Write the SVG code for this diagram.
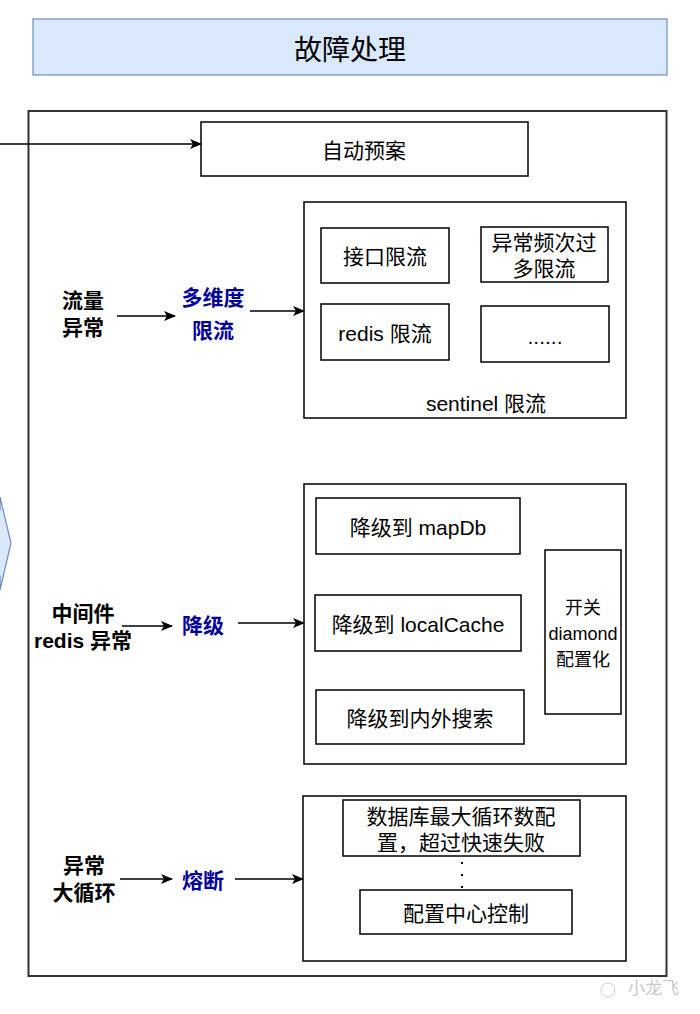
<svg xmlns="http://www.w3.org/2000/svg" width="700" height="1014" viewBox="0 0 700 1014">
<defs>
<style>
.box{fill:#fff;stroke:#000;stroke-width:1.5}
.t{font-family:"Liberation Sans","Noto Sans CJK SC",sans-serif;font-size:21px;fill:#000;text-anchor:middle;dominant-baseline:central}
.lb{font-family:"Liberation Sans","Noto Sans CJK SC",sans-serif;font-size:21px;font-weight:bold;fill:#000;text-anchor:middle;dominant-baseline:central}
.bl{fill:#000099}
.c{stroke:#000;stroke-width:1.5;fill:none;marker-end:url(#ah)}
</style>
<marker id="ah" viewBox="0 0 12 10" refX="11" refY="5" markerWidth="12" markerHeight="10" markerUnits="userSpaceOnUse" orient="auto">
<path d="M0,0 L12,5 L0,10 L3,5 Z" fill="#000"/>
</marker>
</defs>
<rect width="700" height="1014" fill="#fff"/>

<g id="left-arrow-shape">
<polygon points="-20,510 0,510 0,497 11,543 0,590 0,576 -20,576" fill="#dae8fc" stroke="#6c8ebf" stroke-width="1.2"/>
</g>

<g id="title">
<rect x="33" y="19" width="634" height="56" fill="#dae8fc" stroke="#6c8ebf" stroke-width="1.2"/>
<text class="t" x="350" y="50" style="font-size:28px">故障处理</text>
</g>

<g id="outer">
<rect x="28.5" y="111" width="638" height="865" fill="none" stroke="#333" stroke-width="2"/>
</g>

<g id="auto-plan">
<rect class="box" x="201" y="122" width="327" height="54"/>
<text class="t" x="364" y="150">自动预案</text>
</g>

<g id="sentinel-group">
<rect class="box" x="304" y="202" width="322" height="216"/>
<text class="t" x="486" y="403">sentinel 限流</text>
</g>
<g id="n-api">
<rect class="box" x="321" y="228" width="128" height="55"/>
<text class="t" x="385" y="256">接口限流</text>
</g>
<g id="n-freq">
<rect class="box" x="481" y="227" width="127" height="55"/>
<text class="t" x="544" y="242">异常频次过</text>
<text class="t" x="544" y="268">多限流</text>
</g>
<g id="n-redis">
<rect class="box" x="321" y="304" width="128" height="56"/>
<text class="t" x="385" y="333">redis 限流</text>
</g>
<g id="n-more">
<rect class="box" x="481" y="306" width="128" height="56"/>
<text class="t" x="545" y="336">......</text>
</g>

<g id="lbl-traffic">
<text class="lb" x="83" y="300">流量</text>
<text class="lb" x="83" y="327">异常</text>
</g>
<g id="lbl-multi">
<text class="lb bl" x="213" y="297">多维度</text>
<text class="lb bl" x="213" y="330">限流</text>
</g>

<g id="degrade-group">
<rect class="box" x="304" y="484" width="322" height="280"/>
</g>
<g id="n-mapdb">
<rect class="box" x="316" y="498" width="204" height="56"/>
<text class="t" x="418" y="527">降级到 mapDb</text>
</g>
<g id="n-local">
<rect class="box" x="315" y="595" width="206" height="56"/>
<text class="t" x="418" y="624">降级到 localCache</text>
</g>
<g id="n-search">
<rect class="box" x="316" y="690" width="208" height="54"/>
<text class="t" x="420" y="718">降级到内外搜索</text>
</g>
<g id="n-switch">
<rect class="box" x="545" y="550" width="76" height="164"/>
<text class="t" x="583" y="608" style="font-size:18px">开关</text>
<text class="t" x="583" y="634" style="font-size:18px">diamond</text>
<text class="t" x="583" y="660" style="font-size:18px">配置化</text>
</g>

<g id="lbl-middleware">
<text class="lb" x="83" y="613">中间件</text>
<text class="lb" x="83" y="640">redis 异常</text>
</g>
<g id="lbl-degrade">
<text class="lb bl" x="203" y="625">降级</text>
</g>

<g id="fuse-group">
<rect class="box" x="303" y="796" width="323" height="165"/>
</g>
<g id="n-db">
<rect class="box" x="343" y="800" width="237" height="56"/>
<text class="t" x="461" y="816">数据库最大循环数配</text>
<text class="t" x="461" y="842">置，超过快速失败</text>
</g>
<g id="n-config">
<rect class="box" x="360" y="890" width="212" height="44"/>
<text class="t" x="466" y="913">配置中心控制</text>
</g>

<g id="lbl-loop">
<text class="lb" x="84" y="865">异常</text>
<text class="lb" x="84" y="892">大循环</text>
</g>
<g id="lbl-fuse">
<text class="lb bl" x="203" y="880">熔断</text>
</g>

<g id="connectors">
<path class="c" d="M0,144 L201,144"/>
<path class="c" d="M117,316 L175,316"/>
<path class="c" d="M250,311 L304,311"/>
<path class="c" d="M122,626 L172,626"/>
<path class="c" d="M238,623 L304,623"/>
<path class="c" d="M120,879 L172,879"/>
<path class="c" d="M235,879 L303,879"/>
<path d="M462,862 L462,890" stroke="#000" stroke-width="2" stroke-dasharray="2,10" fill="none"/>
</g>

<g id="watermark">
<text x="628" y="994" style="font-family:'Noto Sans CJK SC',sans-serif;font-size:17px;fill:#c8c8c8">小龙飞</text>
<circle cx="608" cy="990" r="7" fill="none" stroke="#d0d0d0" stroke-width="1"/>
</g>
</svg>
